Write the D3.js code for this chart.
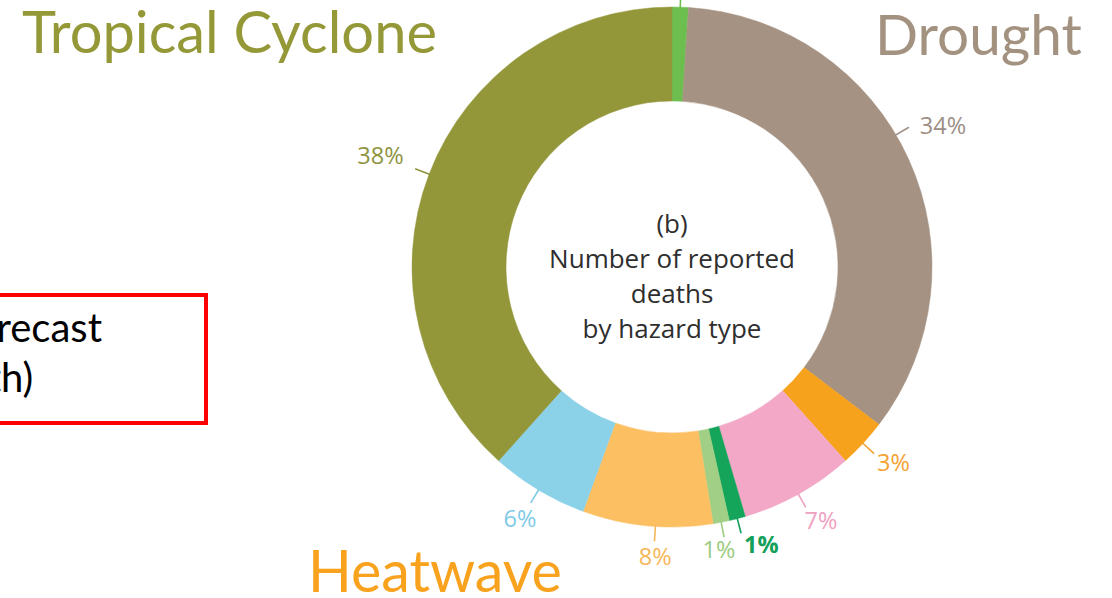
<!DOCTYPE html>
<html>
<head>
<meta charset="utf-8">
<script src="https://cdn.jsdelivr.net/npm/d3@7"></script>
<style>
  html, body { margin: 0; padding: 0; background: #ffffff; }
  svg { display: block; }
</style>
</head>
<body>
<svg id="chart" width="1112" height="598"></svg>
<script>
// Share of reported deaths by hazard type, clockwise from 12 o'clock
const hazards = ["Landslide", "Drought", "Wildfire", "Cold wave", "Flash flood",
                 "Mass movement", "Extreme temperature", "Flood", "Storm"];
const shares = [1, 34, 3, 7, 1, 1, 8, 6, 38];
const shareLabels = [null, "34%", "3%", "7%", "1%", "1%", "8%", "6%", "38%"];
const sliceColors = ["#6cbf4e", "#a59282", "#f7a21d", "#f3a8c7", "#14a55b",
                     "#a0cf85", "#fcbf62", "#8bd2e8", "#939639"];
const labelColors = ["#6cbf4e", "#9c8f86", "#f4a232", "#ef9fc0", "#12a05a",
                     "#9ccc80", "#f8b65a", "#7fcbe6", "#8f943f"];

// Slide captions placed around the donut
const captions = [
  { text: "Tropical Cyclone", color: "#949837" },
  { text: "Drought", color: "#a49281" },
  { text: "Heatwave", color: "#f8a21e" }
];
const boxLines = ["Forecast", "(death)"];

const svg = d3.select("#chart");
const cx = 672, cy = 267;
const outerR = 260, innerR = 166;

const pie = d3.pie().sort(null).value(d => d.value)
  .startAngle(0).endAngle(2 * Math.PI);
const arc = d3.arc().innerRadius(innerR).outerRadius(outerR);

const data = hazards.map((h, i) => ({
  name: h, value: shares[i], label: shareLabels[i],
  fill: sliceColors[i], ink: labelColors[i]
}));
const arcs = pie(data);

const g = svg.append("g").attr("transform", `translate(${cx},${cy})`);

g.selectAll("path.slice")
  .data(arcs)
  .join("path")
  .attr("class", "slice")
  .attr("d", arc)
  .attr("fill", d => d.data.fill)
  .attr("stroke", d => d.data.fill)
  .attr("stroke-width", 0.5);

// label placement tweaks (angle offset in degrees, text nudge in px)
const labelTweak = {
  1: { da: -6, dx: 16, dy: 8 },
  2: { da: 0, dx: 4, dy: -6 },
  3: { da: 0, dx: 5, dy: -6 },
  4: { da: 0, dx: 15, dy: -10 },
  5: { da: 0, dx: -9, dy: -9 },
  6: { da: -1.8, dx: 2, dy: -6 },
  7: { da: 0, dx: 0, dy: -3 },
  8: { da: 0, dx: -15, dy: -6 }
};
const polar = (a, r) => [r * Math.sin(a), -r * Math.cos(a)];

arcs.forEach((d, i) => {
  const t = labelTweak[i] || { da: 0, dx: 0, dy: 0 };
  const mid = (d.startAngle + d.endAngle) / 2;
  const a = mid + t.da * Math.PI / 180;
  const p0 = polar(a, outerR - 1);
  const p1 = polar(a, outerR + (i === 0 ? 30 : 15));
  g.append("line")
    .attr("x1", p0[0]).attr("y1", p0[1])
    .attr("x2", p1[0]).attr("y2", p1[1])
    .attr("stroke", d.data.ink)
    .attr("stroke-width", 1.6);
  if (d.data.label) {
    const pt = polar(a, outerR + 36);
    g.append("text")
      .attr("x", pt[0] + t.dx)
      .attr("y", pt[1] + t.dy)
      .attr("text-anchor", "middle")
      .attr("dominant-baseline", "central")
      .attr("font-family", "'Open Sans', 'Noto Sans', sans-serif")
      .attr("font-size", 23.5)
      .attr("font-weight", i === 4 ? 700 : 400)
      .attr("fill", d.data.ink)
      .text(d.data.label);
  }
});

// centre title
const title = ["(b)", "Number of reported", "deaths", "by hazard type"];
g.selectAll("text.title")
  .data(title)
  .join("text")
  .attr("class", "title")
  .attr("x", 0)
  .attr("y", (d, i) => -34 + i * 35)
  .attr("text-anchor", "middle")
  .attr("font-family", "'Open Sans', 'Noto Sans', sans-serif")
  .attr("font-size", 26)
  .attr("fill", "#2e2e2e")
  .text(d => d);

// big captions, sized so each spans its target width
const capFont = "Lato, 'Open Sans', sans-serif";
const capPos = [
  { x: 22, y: 53, w: 415 },
  { x: 875, y: 55, w: 207 },
  { x: 308, y: 592, w: 254 }
];
captions.forEach((c, i) => {
  const t = svg.append("text")
    .attr("x", capPos[i].x)
    .attr("y", capPos[i].y)
    .attr("font-family", capFont)
    .attr("font-size", 56)
    .attr("fill", c.color)
    .text(c.text);
  const len = t.node().getComputedTextLength();
  if (len > 0) t.attr("font-size", 56 * capPos[i].w / len);
});

// framed note at the left edge (its text runs past the window's left side)
svg.append("rect")
  .attr("x", -10).attr("y", 295)
  .attr("width", 216).attr("height", 128)
  .attr("fill", "none")
  .attr("stroke", "#ff0000")
  .attr("stroke-width", 4);
svg.append("text")
  .attr("x", 102).attr("y", 342)
  .attr("text-anchor", "end")
  .attr("font-family", capFont)
  .attr("font-size", 40)
  .attr("fill", "#000000")
  .text(boxLines[0]);
const split = boxLines[1].length - 2;
const note2 = svg.append("text")
  .attr("x", 1).attr("y", 392)
  .attr("text-anchor", "end")
  .attr("font-family", capFont)
  .attr("font-size", 40)
  .attr("fill", "#000000");
note2.append("tspan").text(boxLines[1].slice(0, split));
note2.append("tspan")
  .attr("x", 1)
  .attr("text-anchor", "start")
  .text(boxLines[1].slice(split));
</script>
</body>
</html>
